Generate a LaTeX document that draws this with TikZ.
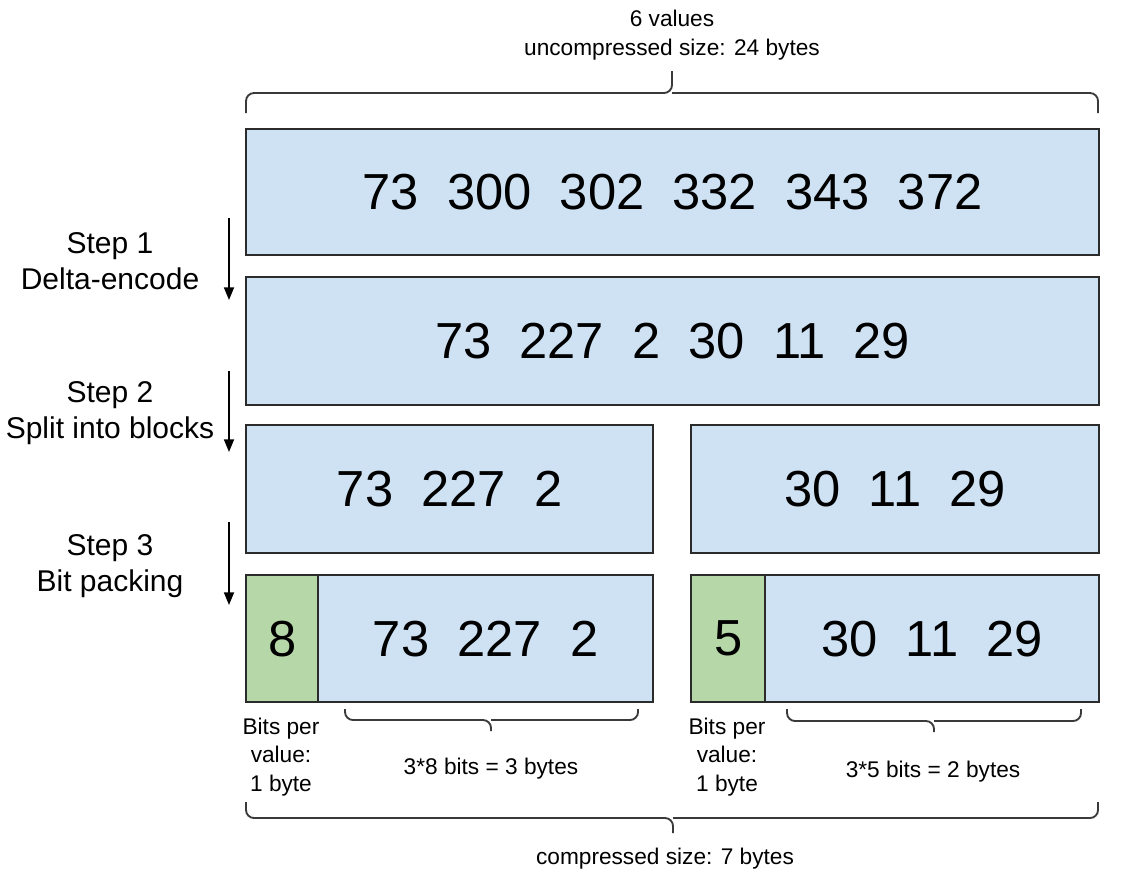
\documentclass[tikz,border=0pt]{standalone}
\usepackage{fontspec}
\setmainfont{Liberation Sans}
\usetikzlibrary{arrows.meta}
\definecolor{boxblue}{HTML}{CFE2F3}
\definecolor{boxgreen}{HTML}{B6D7A8}
\definecolor{edge}{HTML}{2B2B2B}
\definecolor{bracecol}{HTML}{3A3A3A}
\begin{document}
\begin{tikzpicture}[x=0.75pt,y=-0.75pt,
  cell/.style={draw=edge, line width=1.7pt, inner sep=0pt, anchor=north west,
    font=\fontsize{38}{40}\selectfont},
  bluecell/.style={cell, fill=boxblue},
  greencell/.style={cell, fill=boxgreen},
  steplabel/.style={align=center, font=\fontsize{22.5}{26.5}\selectfont},
  small/.style={align=center, font=\fontsize{17}{21.5}\selectfont},
  brace/.style={draw=bracecol, line width=1.4pt, rounded corners=6pt},
  steparrow/.style={draw=black, line width=1.3pt, -{Triangle[length=9.5pt,width=7.5pt]}}]
\useasboundingbox (0,0) rectangle (1121,879);

% rows
\node[bluecell, minimum width={853*0.75pt}, minimum height={126*0.75pt}] (r1) at (245,128) {73~~300~~302~~332~~343~~372};
\node[bluecell, minimum width={853*0.75pt}, minimum height={128*0.75pt}] (r2) at (245,276) {73~~227~~2~~30~~11~~29};
\node[bluecell, minimum width={407*0.75pt}, minimum height={128*0.75pt}] (r3l) at (245,424) {73~~227~~2};
\node[bluecell, minimum width={408*0.75pt}, minimum height={128*0.75pt}] (r3r) at (690,424) {30~~11~~29};
\node[greencell, minimum width={72*0.75pt}, minimum height={127*0.75pt}] (g4l) at (245,574) {8};
\node[bluecell, minimum width={335*0.75pt}, minimum height={127*0.75pt}] (r4l) at (317,574) {73~~227~~2};
\node[greencell, minimum width={74*0.75pt}, minimum height={127*0.75pt}] (g4r) at (690,574) {5};
\node[bluecell, minimum width={334*0.75pt}, minimum height={127*0.75pt}] (r4r) at (764,574) {30~~11~~29};

% step labels
\node[steplabel] (s1) at (110,261) {Step 1\\Delta-encode};
\node[steplabel] (s2) at (110,413) {Step 2\\Split into blocks};
\node[steplabel] (s3) at (110,566) {Step 3\\Bit packing};

\coordinate (a1s) at (229,218); \coordinate (a1e) at (229,300);
\coordinate (a2s) at (229,371); \coordinate (a2e) at (229,452);
\coordinate (a3s) at (229,522); \coordinate (a3e) at (229,605);
\draw[steparrow] (a1s) -- (a1e);
\draw[steparrow] (a2s) -- (a2e);
\draw[steparrow] (a3s) -- (a3e);

% top brace and label
\node[small] (top) at (672,35) {6 values\\uncompressed size: 24 bytes};
\coordinate (tbl) at (246,113); \coordinate (tbr) at (1098,113);
\coordinate (tbm) at (672,93); \coordinate (tbtip) at (672,71);
\draw[brace] (tbl) -- (246,93) -- (tbm) -- (tbtip);
\draw[brace] (tbm) -- (1098,93) -- (tbr);

% small braces
\coordinate (lbm) at (491,720);
\draw[brace] (345,709) -- (345,720) -- (lbm) -- (491,731);
\draw[brace] (lbm) -- (638,720) -- (638,709);
\coordinate (rbm) at (934,721);
\draw[brace] (787,709) -- (787,721) -- (rbm) -- (934,732);
\draw[brace] (rbm) -- (1081,721) -- (1081,709);

\node[small] (bpl) at (281,757) {Bits per\\value:\\1 byte};
\node[small] (bpr) at (727,757) {Bits per\\value:\\1 byte};
\node[small] (bl) at (491,769) {3*8 bits = 3 bytes};
\node[small] (br) at (933,772) {3*5 bits = 2 bytes};

% bottom brace
\coordinate (bbm) at (673,818);
\draw[brace] (246,802) -- (246,818) -- (bbm) -- (673,833);
\draw[brace] (bbm) -- (1098,818) -- (1098,802);
\node[small] (comp) at (665,859) {compressed size: 7 bytes};
\end{tikzpicture}
\end{document}
